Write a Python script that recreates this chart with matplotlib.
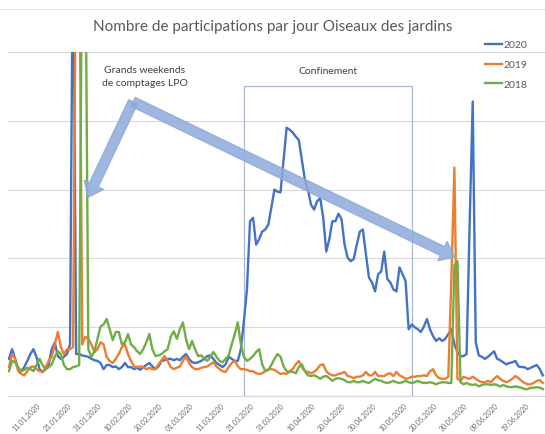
import pandas as pd
import matplotlib
matplotlib.use('Agg')
import matplotlib.pyplot as plt
from matplotlib.patches import Rectangle
from matplotlib.lines import Line2D

plt.rcParams['font.family'] = ['Lato', 'DejaVu Sans']

# jours de l'annee (axe commun aux trois annees)
jours = pd.date_range('2020-01-01', periods=176, freq='D')
annees = ['2020', '2019', '2018']
couleurs = ['#4472C4', '#ED7D31', '#70AD47']

# participations par jour (100 = une ligne de grille)
p2020 = [54, 68, 54, 39, 36, 42, 51, 61, 68, 57, 39, 35, 39, 46, 68, 78, 58, 54, 57, 61, 75,
         700,
         61, 61, 59, 58, 57, 54, 52, 51, 48, 39, 45, 45, 42, 43, 39, 42, 48, 42, 42, 39, 41, 38,
         42, 45, 48, 43, 39, 43, 51, 52, 54, 54, 52, 54, 52, 57, 61, 54, 49, 48, 49, 51, 54, 58,
         59, 54, 48, 45, 42, 46, 57, 54,
         51, 51, 68, 109, 155, 254, 259, 220, 228, 239, 242, 249, 274, 300, 297, 296, 343, 390,
         387, 383, 377, 372, 343, 314, 300, 278, 271, 283, 288, 259, 210, 228, 254, 254, 265, 257,
         220, 201, 196, 199, 220, 239, 242, 206, 172, 165, 152, 177, 181, 210, 170, 165, 155, 152,
         187, 177, 167, 97, 104, 100, 97, 93, 101, 112, 97, 87, 80, 84, 80, 83, 90, 97, 75, 64,
         58, 58, 61, 250, 428, 78, 59, 57, 54, 57, 61, 65, 54, 52, 49, 46, 48, 49, 51, 43, 42, 42,
         39, 41, 43, 45, 39, 30]
p2019 = [42, 61, 54, 36, 32, 30, 36, 42, 43, 39, 36, 35, 42, 51, 57, 75, 93, 71, 61, 68, 68, 71,
         700, 700,
         75, 86, 83, 75, 64, 68, 78, 75, 57, 51, 48, 54, 61, 71, 75, 61, 51, 43, 42, 43, 42, 39,
         41, 39, 39, 46, 52, 58, 51, 42, 39, 41, 43, 51, 57, 48, 42, 39, 39, 41, 42, 43, 46, 49,
         43, 39, 36, 35, 42, 48, 51, 43, 39, 39, 38, 36, 36, 33, 32, 33, 36, 39, 39, 38, 35, 32,
         33, 32, 36, 39, 46, 51, 42, 36, 35, 33, 35, 39, 45, 46, 36, 32, 30, 30, 32, 33, 35, 29,
         28, 26, 28, 28, 30, 35, 30, 30, 35, 29, 29, 29, 32, 33, 29, 35, 30, 28, 25, 26, 28, 28,
         29, 29, 30, 29, 36, 39, 30, 26, 25, 25, 28,
         170, 332, 25, 22, 28, 26, 25, 28, 25, 22, 20, 20, 22, 20, 25, 29, 25, 22, 20, 22, 25, 29,
         26, 22, 19, 17, 17, 19, 22, 23, 19]
p2018 = [36, 51, 49, 42, 36, 38, 41, 39, 36, 45, 54, 45, 39, 42, 46, 57, 65, 61, 45, 39, 39, 42,
         43, 45,
         700, 700,
         68, 57, 65, 83, 101, 104, 112, 97, 81, 93, 93, 75, 78, 90, 75, 71, 65, 61, 68, 78, 90, 68,
         58, 59, 61, 65, 68, 86, 94, 83, 97, 107, 83, 68, 80, 68, 58, 59, 54, 51, 57, 64, 57, 51,
         49, 54, 59, 75, 90, 107, 75, 57, 51, 54, 58, 64, 68, 46, 36, 38, 45, 54, 61, 57, 43, 36,
         35, 35, 33, 42, 46, 36, 30, 29, 30, 28, 25, 28, 29, 26, 22, 25, 26, 25, 23, 20, 20, 22,
         20, 20, 22, 20, 19, 22, 25, 23, 22, 20, 19, 20, 22, 20, 19, 20, 22, 20, 19, 20, 22, 20,
         19, 19, 20, 19, 17, 19, 20, 20, 19, 19,
         190, 196, 20, 17, 19, 17, 16, 17, 14, 16, 17, 17, 16, 17, 16, 14, 16, 14, 13, 13, 14, 13,
         12, 10, 10, 12, 12, 13, 12, 10]
series = [p2020, p2019, p2018]

dates_axe = pd.date_range('2020-01-11', '2020-06-19', freq='10D')
confinement = (pd.Timestamp('2020-03-18'), pd.Timestamp('2020-05-12'))

fig = plt.figure(figsize=(5.45, 4.35), dpi=100)
ax = fig.add_axes([8 / 545, 38 / 435, 537 / 545, 344 / 435])

for serie, annee, c in zip(series, annees, couleurs):
    ax.plot(jours, serie, color=c, lw=1.7, label=annee, solid_joinstyle='round')

ax.set_ylim(0, 500)
ax.set_xlim(jours[0] - pd.Timedelta(hours=8), jours[0] + pd.Timedelta(days=175.7))
ax.set_yticks([100, 200, 300, 400, 500])
ax.grid(axis='y', color='#d9d9d9', lw=0.8)
ax.set_axisbelow(True)
ax.tick_params(left=False, bottom=False, labelleft=False, pad=2)
for s in ['left', 'right', 'top']:
    ax.spines[s].set_visible(False)
ax.spines['bottom'].set_color('#d9d9d9')
ax.set_xticks(dates_axe)
ax.set_xticklabels([d.strftime('%d.%m.%Y') for d in dates_axe], rotation=45, ha='right',
                   rotation_mode='anchor', va='center', fontsize=5, color='#6a6a6a')

leg = ax.legend(loc='upper left', bbox_to_anchor=(481 / 545, 1 - 37 / 435),
                bbox_transform=fig.transFigure, frameon=False, fontsize=7.5,
                handlelength=1.6, handletextpad=0.15, labelspacing=1.0,
                borderaxespad=0, borderpad=0.4)
for t in leg.get_texts():
    t.set_color('#595959')

fig.text(0.5, 1 - 27 / 435, 'Nombre de participations par jour Oiseaux des jardins',
         ha='center', va='center', fontsize=11, color='#595959')
fig.add_artist(Line2D([0, 1], [1 - 10 / 435] * 2, color='#e3e3e3', lw=0.8))

# cadre du confinement
largeur = confinement[1] - confinement[0]
ax.add_patch(Rectangle((confinement[0], 0), largeur, 0.901, transform=ax.get_xaxis_transform(),
                       fill=False, ec='#a9b8d0', lw=0.9, clip_on=False))
ax.text(confinement[0] + largeur / 2, 0.945, 'Confinement', transform=ax.get_xaxis_transform(),
        ha='center', va='center', fontsize=7.5, color='#404040')

# fleches vers les grands weekends de comptage
ax.text(0.255, 0.93, 'Grands weekends\nde comptages LPO', transform=ax.transAxes,
        ha='center', va='center', fontsize=7.5, color='#404040', linespacing=1.6)
style = 'simple,head_length=0.7,head_width=1.1,tail_width=0.5'
for cible in [(0.149, 0.578), (0.832, 0.404)]:
    ax.annotate('', xy=cible, xytext=(0.233, 0.855), xycoords='axes fraction',
                arrowprops=dict(arrowstyle=style, mutation_scale=14, color='#8eaadb',
                                alpha=0.85, shrinkA=0, shrinkB=0))

fig.savefig('out.png', dpi=100)
